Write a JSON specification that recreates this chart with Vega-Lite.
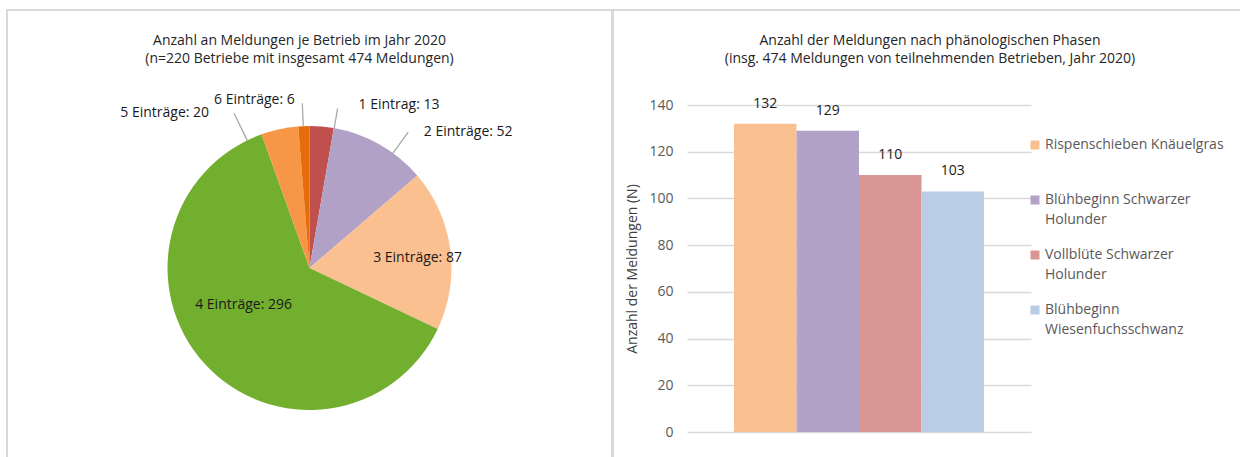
{
  "$schema": "https://vega.github.io/schema/vega-lite/v6.json",
  "padding": {"left": 6, "top": 9, "right": 0, "bottom": 0},
  "spacing": -2,
  "resolve": {"scale": {"color": "independent"}, "legend": {"color": "independent"}},
  "config": {
    "font": "Open Sans",
    "view": {"stroke": "#D9D9D9", "strokeWidth": 2},
    "concat": {"spacing": -2},
    "title": {"fontSize": 14, "fontWeight": "normal", "color": "#262626", "font": "Open Sans", "lineHeight": 18, "frame": "group", "anchor": "middle", "baseline": "top", "offset": -56}
  },
  "hconcat": [
    {
      "width": 605,
      "height": 460,
      "view": {"stroke": "#D9D9D9", "strokeWidth": 2},
      "title": {"text": ["Anzahl an Meldungen je Betrieb im Jahr 2020", "(n=220 Betriebe mit insgesamt 474 Meldungen)"], "dx": -10},
      "data": {"values": [
        {"eintraege": 1, "label": "1 Eintrag: 13", "n": 13},
        {"eintraege": 2, "label": "2 Einträge: 52", "n": 52},
        {"eintraege": 3, "label": "3 Einträge: 87", "n": 87},
        {"eintraege": 4, "label": "4 Einträge: 296", "n": 296},
        {"eintraege": 5, "label": "5 Einträge: 20", "n": 20},
        {"eintraege": 6, "label": "6 Einträge: 6", "n": 6}
      ]},
      "encoding": {
        "theta": {"field": "n", "type": "quantitative", "stack": true},
        "order": {"field": "eintraege", "type": "quantitative", "sort": "ascending"}
      },
      "layer": [
        {
          "mark": {"type": "arc", "radius": 142, "y": 258},
          "encoding": {
            "color": {"field": "eintraege", "type": "nominal", "scale": {"domain": [1, 2, 3, 4, 5, 6], "range": ["#C0504D", "#B2A1C7", "#FAC090", "#72AF2F", "#F79646", "#E46C0A"]}, "legend": null}
          }
        },
        {
          "mark": {"type": "arc", "radius": 162, "radius2": 142, "thetaOffset": 0.174533, "fillOpacity": 0, "stroke": "#A6A6A6", "strokeWidth": 1.25, "strokeDash": [0, 27.916, 20, 5000], "y": 258},
          "encoding": {"opacity": {"condition": {"test": "datum.eintraege === 1", "value": 1}, "value": 0}}
        },
        {
          "mark": {"type": "arc", "radius": 168, "radius2": 142, "thetaOffset": 0.456006, "fillOpacity": 0, "stroke": "#A6A6A6", "strokeWidth": 1.25, "strokeDash": [0, 115.802, 26, 5000], "y": 258},
          "encoding": {"opacity": {"condition": {"test": "datum.eintraege === 2", "value": 1}, "value": 0}}
        },
        {
          "mark": {"type": "arc", "radius": 172, "radius2": 142, "thetaOffset": -0.109135, "fillOpacity": 0, "stroke": "#A6A6A6", "strokeWidth": 1.25, "strokeDash": [0, 45.6, 30, 5000], "y": 258},
          "encoding": {"opacity": {"condition": {"test": "datum.eintraege === 5", "value": 1}, "value": 0}}
        },
        {
          "mark": {"type": "arc", "radius": 165, "radius2": 142, "thetaOffset": 0.035901, "fillOpacity": 0, "stroke": "#A6A6A6", "strokeWidth": 1.25, "strokeDash": [0, 13.123, 23, 5000], "y": 258},
          "encoding": {"opacity": {"condition": {"test": "datum.eintraege === 6", "value": 1}, "value": 0}}
        },
        {
          "mark": {"type": "text", "radius": 163.6, "y": 258, "align": "left", "dx": 35, "fontSize": 14, "color": "#1A1A1A"},
          "encoding": {"text": {"field": "label"}, "opacity": {"condition": {"test": "datum.eintraege === 1", "value": 1}, "value": 0}}
        },
        {
          "mark": {"type": "text", "radius": 156.4, "y": 258, "align": "left", "dx": 37, "fontSize": 14, "color": "#1A1A1A"},
          "encoding": {"text": {"field": "label"}, "opacity": {"condition": {"test": "datum.eintraege === 2", "value": 1}, "value": 0}}
        },
        {
          "mark": {"type": "text", "radius": 110, "y": 258, "align": "center", "dx": -1, "dy": 4.5, "fontSize": 14, "color": "#1A1A1A"},
          "encoding": {"text": {"field": "label"}, "opacity": {"condition": {"test": "datum.eintraege === 3", "value": 1}, "value": 0}}
        },
        {
          "mark": {"type": "text", "radius": 70, "y": 258, "align": "center", "dx": -14, "dy": -10, "fontSize": 14, "color": "#1A1A1A"},
          "encoding": {"text": {"field": "label"}, "opacity": {"condition": {"test": "datum.eintraege === 4", "value": 1}, "value": 0}}
        },
        {
          "mark": {"type": "text", "radius": 158.6, "y": 258, "align": "right", "dx": -67, "fontSize": 14, "color": "#1A1A1A"},
          "encoding": {"text": {"field": "label"}, "opacity": {"condition": {"test": "datum.eintraege === 5", "value": 1}, "value": 0}}
        },
        {
          "mark": {"type": "text", "radius": 168.1, "y": 258, "align": "right", "dx": -8, "fontSize": 14, "color": "#1A1A1A"},
          "encoding": {"text": {"field": "label"}, "opacity": {"condition": {"test": "datum.eintraege === 6", "value": 1}, "value": 0}}
        }
      ]
    },
    {
      "width": 640,
      "height": 460,
      "title": {"text": ["Anzahl der Meldungen nach phänologischen Phasen", "(insg. 474 Meldungen von teilnehmenden Betrieben, Jahr 2020)"], "dx": -3},
      "data": {"values": [
        {"phase": "Rispenschieben Knäuelgras", "n": 132},
        {"phase": "Blühbeginn Schwarzer Holunder", "n": 129},
        {"phase": "Vollblüte Schwarzer Holunder", "n": 110},
        {"phase": "Blühbeginn Wiesenfuchsschwanz", "n": 103}
      ]},
      "encoding": {
        "x": {"field": "phase", "type": "nominal", "sort": null, "axis": null, "scale": {"range": [74, 418], "paddingInner": 0, "paddingOuter": 0.752}},
        "y": {"field": "n", "type": "quantitative", "scale": {"domain": [0, 140], "range": [422, 95], "nice": false, "zero": true},
          "axis": {"title": "Anzahl der Meldungen  (N)", "offset": -74, "domain": false, "ticks": false, "labelPadding": 14, "grid": true, "gridColor": "#D9D9D9", "gridWidth": 1.5, "values": [0, 20, 40, 60, 80, 100, 120, 140], "labelColor": "#595959", "labelFontSize": 14, "labelFont": "Open Sans", "titleFont": "Open Sans", "titleFontSize": 14, "titleFontWeight": "normal", "titleColor": "#404040", "titlePadding": 9}}
      },
      "layer": [
        {
          "mark": {"type": "bar"},
          "encoding": {
            "color": {"field": "phase", "type": "nominal", "sort": null,
              "scale": {"domain": ["Rispenschieben Knäuelgras", "Blühbeginn Schwarzer Holunder", "Vollblüte Schwarzer Holunder", "Blühbeginn Wiesenfuchsschwanz"], "range": ["#FAC090", "#B3A2C7", "#D99694", "#B9CDE5"]},
              "legend": {"orient": "none", "legendX": 415, "legendY": 128, "title": null, "symbolType": "square", "symbolSize": 81, "symbolStrokeWidth": 0, "labelFontSize": 14, "labelFont": "Open Sans", "labelColor": "#595959", "labelOffset": 3, "labelLimit": 0, "padding": 0, "gridAlign": "all", "rowPadding": 21, "labelBaseline": "top",
                "labelExpr": "datum.label === 'Blühbeginn Schwarzer Holunder' ? ['Blühbeginn Schwarzer', 'Holunder'] : datum.label === 'Vollblüte Schwarzer Holunder' ? ['Vollblüte Schwarzer', 'Holunder'] : datum.label === 'Blühbeginn Wiesenfuchsschwanz' ? ['Blühbeginn', 'Wiesenfuchsschwanz'] : datum.label",
                "encode": {"labels": {"update": {"lineHeight": {"value": 19.5}, "dy": {"value": -7}}}}}
            }
          }
        },
        {
          "mark": {"type": "text", "baseline": "middle", "dy": -20, "fontSize": 14, "color": "#1A1A1A"},
          "encoding": {"text": {"field": "n", "type": "quantitative"}}
        }
      ]
    }
  ]
}
